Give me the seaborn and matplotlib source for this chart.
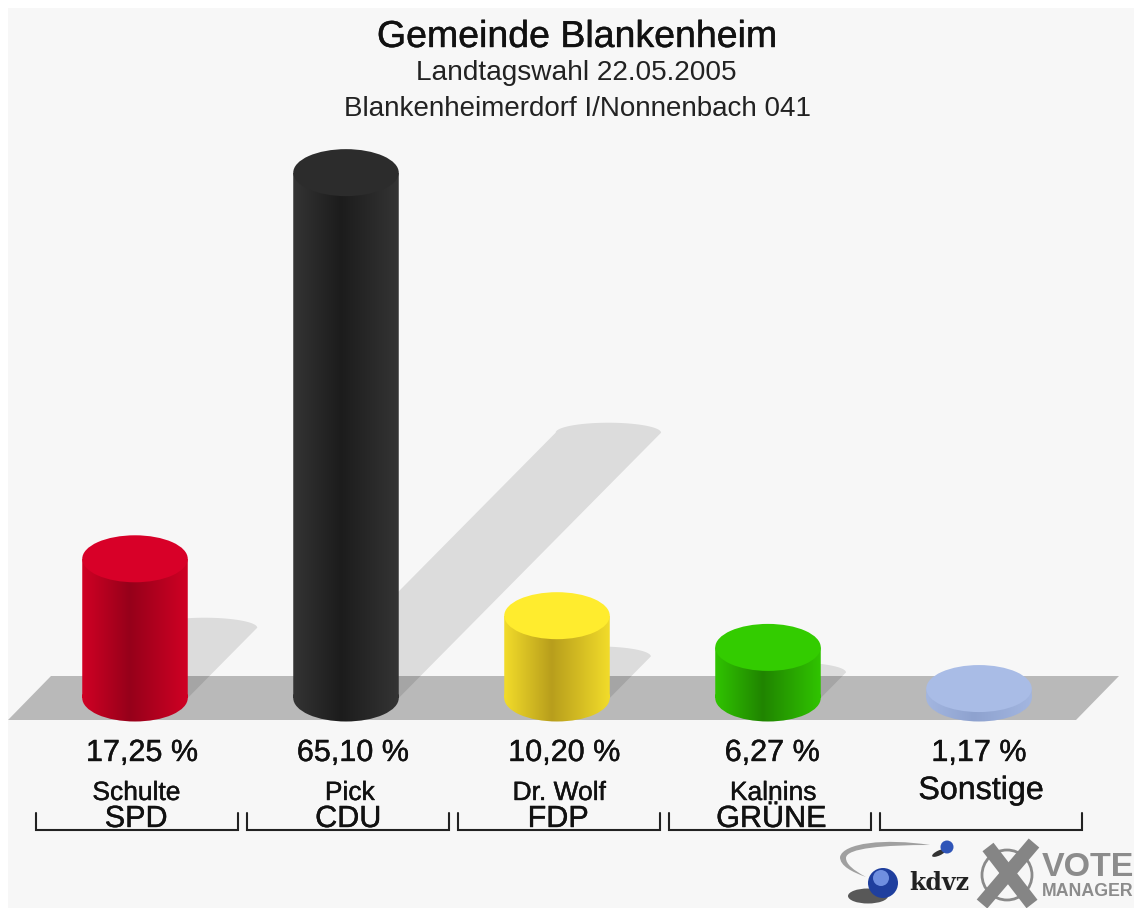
import numpy as np
import pandas as pd
import matplotlib
matplotlib.use('Agg')
import matplotlib.pyplot as plt
import matplotlib.patheffects as pe
import seaborn as sns
from matplotlib.colors import to_rgb
from matplotlib.patches import Circle, Ellipse, PathPatch, Polygon
from matplotlib.path import Path
from matplotlib.transforms import Affine2D, blended_transform_factory

# Values
parties = ['SPD', 'CDU', 'FDP', 'GRÜNE', 'Sonstige']
candidates = ['Schulte', 'Pick', 'Dr. Wolf', 'Kalnins', '']
percent = [17.25, 65.10, 10.20, 6.27, 1.17]
percent_labels = ['17,25 %', '65,10 %', '10,20 %', '6,27 %', '1,17 %']

# Colours: top of the cylinder, side edge, darkest part of the side
top_colors = ['#d80028', '#2c2c2c', '#ffec2e', '#33cc00', '#a9bce6']
edge_colors = ['#d00024', '#343434', '#f2dc2a', '#30c400', '#a3b6e0']
dark_colors = ['#96001a', '#1c1c1c', '#b89e1c', '#208400', '#8ea2cf']

# small horizontal shifts of the labels, in categories
value_shift = [0.033, 0.033, 0.035, 0.02, 0.0]
name_shift = [0.007, 0.018, 0.01, 0.025, 0.01]
party_shift = [0.005, 0.01, 0.005, 0.015, 0.0]

W, H = 1134, 908
PX_X = 211.0    # pixels per category
PX_Y = 8.07     # pixels per percent
X0, Y0 = 135, 698   # pixel position of first category, value 0
BAR_W = 0.5
CAP_H = 47 / PX_Y   # ellipse height in value units

sns.set_theme(style='white')
plt.rcParams['font.family'] = ['Liberation Sans', 'DejaVu Sans']

df = pd.DataFrame({'party': parties, 'percent': percent})

fig = plt.figure(figsize=(W / 100, H / 100), dpi=100, facecolor='white')
ax = fig.add_axes([8 / W, 0, (W - 8) / W, (H - 8) / H], facecolor='#f7f7f7')
sns.barplot(data=df, x='party', y='percent', hue='party', palette=top_colors,
            width=BAR_W, legend=False, saturation=1, linewidth=0, ax=ax)

# pixel coordinates of the reference image, y downwards
px = Affine2D().scale(1, -1).translate(0, H)
lab = blended_transform_factory(ax.transData, px)

# floor
ax.add_patch(Polygon([(8, 720), (1076, 720), (1119, 676), (51, 676)], closed=True,
                     facecolor='#b9b9b9', edgecolor='none', transform=px, zorder=1))

# shadow of each bar falls backwards to the right, its length follows the value
SHADOW_X = 0.0191
SHADOW_Y = 0.505
SHADOW_CAP = 10 / PX_Y
arc = np.linspace(0, np.pi, 40)
for i, v in enumerate(percent):
    if v < 2:
        continue
    dx, dy = SHADOW_X * v, SHADOW_Y * v
    half = BAR_W / 2
    outline = [(i - half, 0), (i + half, 0)]
    outline += [(i + dx + half * np.cos(a), dy + SHADOW_CAP * np.sin(a)) for a in arc]
    ax.add_patch(Polygon(outline, closed=True, facecolor=(0, 0, 0, 0.105), edgecolor='none', zorder=1.5))

# cylinders: gradient side clipped to bar and lower ellipse, flat ellipse on top
for i, bar in enumerate(ax.patches[:len(percent)]):
    x0, w, v = bar.get_x(), bar.get_width(), bar.get_height()
    bar.set_visible(False)
    pos = np.array([0, 0.45, 1])
    grid = np.linspace(0, 1, 200)
    rgb = np.array([np.interp(grid, pos, ch) for ch in
                    zip(to_rgb(edge_colors[i]), to_rgb(dark_colors[i]), to_rgb(edge_colors[i]))]).T
    im = ax.imshow(rgb[np.newaxis, :, :], extent=(x0, x0 + w, -CAP_H / 2, v), aspect='auto',
                   zorder=3, interpolation='bilinear')
    foot = Ellipse((x0 + w / 2, 0), w, CAP_H)
    body = Path.make_compound_path(Path([(x0, 0), (x0 + w, 0), (x0 + w, v), (x0, v), (x0, 0)]),
                                   foot.get_path().transformed(foot.get_patch_transform()))
    clip = PathPatch(body, transform=ax.transData, facecolor='none', edgecolor='none')
    ax.add_patch(clip)
    im.set_clip_path(clip)
    ax.add_patch(Ellipse((x0 + w / 2, v), w, CAP_H, facecolor=top_colors[i], edgecolor='none', zorder=4))

ax.set_xlim((8 - X0) / PX_X, (W - X0) / PX_X)
ax.set_ylim((Y0 - H) / PX_Y, (Y0 - 8) / PX_Y)
ax.set(xticks=[], yticks=[], xlabel='', ylabel='')
sns.despine(ax=ax, left=True, bottom=True)

# titles
ink = '#111111'
heavy = [pe.withStroke(linewidth=0.3, foreground=ink)]
ax.text(577, 37, 'Gemeinde Blankenheim', transform=px, ha='center', va='center', fontsize=27, color=ink,
        path_effects=heavy)
ax.text(576, 73, 'Landtagswahl 22.05.2005', transform=px, ha='center', va='center', fontsize=20.2, color='#222222')
ax.text(578, 109, 'Blankenheimerdorf I/Nonnenbach 041', transform=px, ha='center', va='center', fontsize=20,
        color='#222222')

# labels under the bars
for i, (lbl, cand, party) in enumerate(zip(percent_labels, candidates, parties)):
    ax.text(i + value_shift[i], 753, lbl, transform=lab, ha='center', va='center', fontsize=22, color=ink,
            path_effects=heavy)
    if cand:
        ax.text(i + name_shift[i], 793, cand, transform=lab, ha='center', va='center', fontsize=19, color=ink,
                path_effects=heavy)
        ax.text(i + party_shift[i], 819, party, transform=lab, ha='center', va='center', fontsize=22, color=ink,
                path_effects=heavy)
    else:
        ax.text(i + name_shift[i], 791, party, transform=lab, ha='center', va='center', fontsize=23.2, color=ink,
                path_effects=heavy)
    ax.plot([i - 0.469, i - 0.469, i + 0.488, i + 0.488], [813, 830, 830, 813], transform=lab,
            color='#222222', lw=1.5, solid_joinstyle='miter', zorder=5)

# logos
swoosh = Path([(930, 845), (885, 838), (843, 843), (840, 857), (840, 866), (852, 872), (866, 877),
               (853, 870), (846, 864), (846, 858), (846, 848), (885, 845), (930, 845)],
              [Path.MOVETO] + [Path.CURVE4] * 12)
ax.add_patch(PathPatch(swoosh, facecolor='#a0a0a0', edgecolor='none', transform=px, zorder=2))
ax.add_patch(Ellipse((868, 896), 40, 15, facecolor='#303030', edgecolor='none', alpha=0.8, transform=px, zorder=2))
ax.add_patch(Circle((883, 883), 15, facecolor='#1f3f9e', edgecolor='none', transform=px, zorder=3))
ax.add_patch(Circle((881, 878), 8, facecolor='#6f8fe0', edgecolor='none', transform=px, zorder=3))
ax.add_patch(Ellipse((939, 853), 15, 5, angle=-25, facecolor='#333333', edgecolor='none', transform=px, zorder=2))
ax.add_patch(Circle((947, 847), 6.5, facecolor='#2f55b8', edgecolor='none', transform=px, zorder=3))
ax.text(909, 883, 'kdvz', transform=px, ha='left', va='center', fontsize=17, fontweight='bold', family='DejaVu Serif',
        color='#222222')
ax.add_patch(Circle((1007, 875), 25, facecolor='none', edgecolor='#8a8a8a', lw=2, transform=px, zorder=3))
ax.plot([988, 1032], [847, 904], transform=px, color='#858585', lw=10, solid_capstyle='butt', zorder=4)
ax.plot([1034, 982], [843, 904], transform=px, color='#858585', lw=10, solid_capstyle='butt', zorder=4)
ax.text(1042, 867, 'VOTE', transform=px, ha='left', va='center', fontsize=24.5, fontweight='bold', color='#8c8c8c')
ax.text(1042, 891, 'MANAGER', transform=px, ha='left', va='center', fontsize=12.8, fontweight='bold', color='#8c8c8c')

fig.savefig('out.png', dpi=100, facecolor='white')
plt.close(fig)
